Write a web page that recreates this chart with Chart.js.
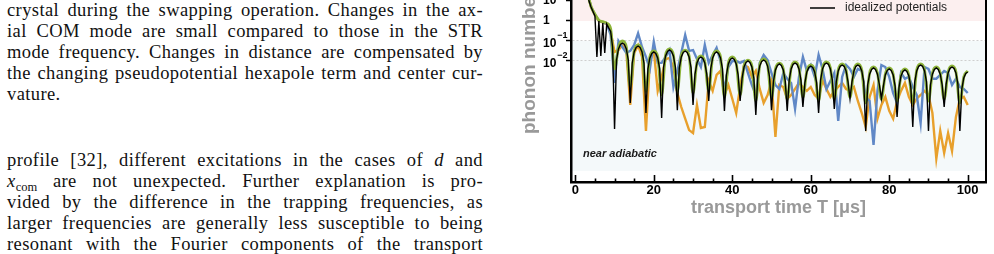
<!DOCTYPE html>
<html>
<head>
<meta charset="utf-8">
<title>phonon number vs transport time</title>
<script src="https://cdn.jsdelivr.net/npm/chart.js@4.4.1/dist/chart.umd.min.js"></script>
<style>
  html, body { margin: 0; padding: 0; background: #fff; }
  body { width: 994px; height: 254px; position: relative; overflow: hidden; }
  .para { position: absolute; left: 7px; width: 476px; font-family: 'Liberation Serif', 'Times New Roman', serif;
          font-size: 18.5px; line-height: 21px; color: #111; letter-spacing: 0.4px; }
  .para div { text-align: justify; text-align-last: justify; }
  .para div.last { text-align-last: left; }
  .para sub { font-size: 12.5px; line-height: 0; vertical-align: -4px; letter-spacing: 0; }
  #p1 { top: 0; }
  #p2 { top: 150px; }
  #chartBox { position: absolute; left: 505px; top: -10px; width: 489px; height: 264px; }
</style>
</head>
<body>

<div class="para" id="p1">
  <div>crystal during the swapping operation. Changes in the ax-</div>
  <div>ial COM mode are small compared to those in the STR</div>
  <div>mode frequency. Changes in distance are compensated by</div>
  <div>the changing pseudopotential hexapole term and center cur-</div>
  <div class="last">vature.</div>
</div>

<div class="para" id="p2">
  <div>profile [32], different excitations in the cases of <i>d</i> and</div>
  <div><i>x</i><sub>com</sub> are not unexpected. Further explanation is pro-</div>
  <div>vided by the difference in the trapping frequencies, as</div>
  <div>larger frequencies are generally less susceptible to being</div>
  <div>resonant with the Fourier components of the transport</div>
</div>

<div id="chartBox"><canvas id="phononChart" width="489" height="264"></canvas></div>

<script>
//////////////////////////////////////////////////////////////////////////
// Data (transport time T in µs, phonon number on a log axis)

var tStart = 3;          // first sample of every series
var coarseStep = 1;      // sampling of the simulated traces
var fineStep = 0.5;      // sampling of the idealized curve

var xTickValues = [0, 20, 40, 60, 80, 100];
var yTickValues = [1e-2, 1e-1, 1, 10];
var yTickBase = ['10', '10', '1', '10'];
var yTickExp = ['\u22122', '\u22121', '', ''];

var seriesLabels = ['idealized potentials', 'green trace', 'blue trace', 'orange trace'];
var seriesColors = ['#000000', '#8db43a', '#6088c6', '#e8a02c'];

// idealized potentials, every 0.5 µs from T = 3
var idealized = [
    30, 10, 5, 3, 1.8, 0.016, 1.0, 0.018, 0.8, 0.025, 0.7, 0.45, 0.3, 0.05,
    4e-6, 0.0112, 0.0398, 0.0676, 0.0794, 0.0676, 0.0398, 0.0112,
    7.9e-5, 0.0079, 0.0282, 0.0479, 0.0562, 0.0479, 0.0282, 0.0079,
    2.5e-5, 0.004, 0.0141, 0.024, 0.0282, 0.024, 0.0141, 0.004,
    1.4e-5, 0.005, 0.0178, 0.0302, 0.0355, 0.0302, 0.0178, 0.005,
    3.5e-5, 0.0045, 0.0158, 0.0269, 0.0316, 0.0269, 0.0158, 0.0045,
    6.3e-5, 0.0022, 0.0079, 0.0135, 0.0158, 0.0135, 0.0079, 0.0022,
    1e-4, 0.004, 0.0141, 0.024, 0.0282, 0.024, 0.0141, 0.004,
    3.2e-5, 0.002, 0.0071, 0.012, 0.0141, 0.012, 0.0071, 0.002,
    1e-4, 0.0014, 0.005, 0.0085, 0.01, 0.0085, 0.005, 0.0014,
    2e-5, 0.0016, 0.0056, 0.0096, 0.0112, 0.0096, 0.0056, 0.0016,
    3.5e-5, 0.001, 0.0036, 0.006, 0.0071, 0.006, 0.0036, 0.001,
    3.2e-5, 0.0011, 0.004, 0.0068, 0.0079, 0.0068, 0.004, 0.0011,
    5e-5, 0.0008, 0.0028, 0.0048, 0.0056, 0.0048, 0.0028, 0.0008,
    2.5e-5, 0.0011, 0.004, 0.0068, 0.0079, 0.0068, 0.004, 0.0011,
    4e-5, 0.0009, 0.0032, 0.0054, 0.0063, 0.0054, 0.0032, 0.0009,
    1.3e-4, 0.0009, 0.0032, 0.0054, 0.0063, 0.0054, 0.0032, 0.0009,
    3.2e-6, 0.00063, 0.0022, 0.0038, 0.0045, 0.0038, 0.0022, 0.00063,
    1.3e-4, 0.00056, 0.002, 0.0034, 0.004, 0.0034, 0.002, 0.00056,
    1.6e-5, 0.0005, 0.0018, 0.003, 0.0036, 0.003, 0.0018, 0.0005,
    5e-6, 0.0009, 0.0032, 0.0054, 0.0063, 0.0054, 0.0032, 0.0009,
    3.2e-6, 0.00063, 0.0022, 0.0038, 0.0045, 0.0038, 0.0022, 0.00063,
    5e-5, 0.0007, 0.0025, 0.0043, 0.005, 0.0043, 0.0025, 0.0007,
    3.2e-6, 0.0004, 0.0014, 0.0024, 0.0028
];

// simulated traces, every 1 µs from T = 3
var greenTrace = [
    30, 5.5, 2.2, 1.1, 0.93, 0.78, 0.42,
    0.004, 0.05, 0.1, 0.05, 5e-4, 0.032, 0.063, 0.032, 3e-4, 0.016,
    0.032, 0.016, 2e-4, 0.02, 0.04, 0.02, 3e-4, 0.018, 0.035, 0.018,
    2.5e-4, 0.0089, 0.018, 0.0089, 3e-4, 0.016, 0.032, 0.016, 1.5e-4, 0.0079,
    0.016, 0.0079, 2e-4, 0.0056, 0.011, 0.0056, 1e-4, 0.0063, 0.0126, 0.0063,
    1.5e-4, 0.004, 0.0079, 0.004, 1.2e-4, 0.0045, 0.0089, 0.0045, 1.5e-4, 0.0032,
    0.0063, 0.0032, 1e-4, 0.0045, 0.0089, 0.0045, 1.2e-4, 0.0035, 0.0071, 0.0035,
    1.5e-4, 0.0035, 0.0071, 0.0035, 8e-5, 0.0025, 0.005, 0.0025, 1.2e-4, 0.0022,
    0.0045, 0.0022, 1e-4, 0.002, 0.004, 0.002, 8e-5, 0.0035, 0.0071, 0.0035,
    1e-4, 0.0025, 0.005, 0.0025, 1.2e-4, 0.0028, 0.0056, 0.0028, 8e-5, 0.0016,
    0.0032
];

var blueTrace = [
    30, 5.2, 2.0, 1.05, 0.88, 0.72, 0.2,
    8e-4, 0.1, 0.05, 0.025, 0.032, 0.063, 0.24, 0.05, 0.016, 0.004,
    0.09, 0.008, 0.008, 0.016, 0.035, 5e-4, 0.0032, 0.025, 0.2, 0.032,
    0.035, 0.0126, 0.005, 0.063, 0.008, 0.02, 0.045, 0.01, 3.2e-4, 0.005,
    0.01, 0.01, 0.008, 0.01, 0.0025, 6.3e-4, 2e-4, 0.008, 0.02, 0.011,
    0.0025, 6.3e-4, 4e-4, 0.0025, 0.0013, 8e-4, 4e-5, 0.0016, 0.016, 0.0032,
    0.0063, 0.0016, 0.02, 0.004, 4e-4, 0.001, 0.0025, 1e-5, 0.0016, 0.0063,
    0.004, 0.0016, 0.004, 0.0032, 1.6e-4, 1e-4, 6.3e-7, 3.2e-4, 0.0063, 0.005,
    0.0016, 2.5e-4, 8e-5, 0.0025, 0.0013, 0.0016, 5e-4, 2e-4, 8e-6, 0.005,
    0.004, 0.0013, 0.0013, 0.002, 0.0032, 0.0025, 6.3e-4, 0.0013, 5e-4, 4e-4,
    2.5e-4
];

var orangeTrace = [
    30, 5, 1.9, 1.0, 0.85, 0.7, 0.3,
    0.028, 0.035, 0.063, 0.03, 6.3e-5, 0.025, 0.06, 0.016, 3.2e-6, 0.01,
    0.035, 3.2e-4, 0.0016, 0.0126, 0.014, 0.005, 2.5e-4, 5e-5, 1.3e-5, 3.5e-6,
    2.5e-6, 6.3e-5, 4.5e-6, 5e-6, 1e-3, 3.2e-4, 0.002, 0.0032, 2e-4, 6.3e-4,
    1.3e-4, 2.5e-5, 5e-4, 0.0063, 0.005, 0.0016, 0.0032, 4e-4, 8e-5, 2e-4,
    1e-3, 1.6e-6, 6.3e-4, 5e-4, 1.3e-4, 2e-4, 4e-4, 8e-4, 5e-4, 3.2e-4,
    5e-4, 2e-4, 1.3e-4, 0.0011, 4e-4, 1.6e-4, 3.2e-4, 5e-4, 8e-4, 4e-4,
    3.2e-4, 5e-4, 1e-4, 2.5e-5, 5e-6, 1.6e-4, 6.3e-4, 1.3e-5, 6.3e-5, 1.6e-4,
    3.2e-5, 1.3e-5, 1e-4, 3.2e-4, 8e-4, 1.6e-4, 6.3e-5, 1.3e-4, 2e-4, 3.2e-4,
    2e-4, 2.5e-5, 1.3e-7, 3.2e-6, 2.5e-7, 2.5e-6, 3.2e-7, 1.6e-5, 1.3e-4, 1.6e-4,
    6.3e-5
];

// shaded regions of the plot
var bandHighFrom = 1;        // pink above n = 1
var bandLowFrom = 0.1;       // light cyan below n = 0.1
var bandLowTo = 3.2e-8;

// axis ranges
var xMin = -1.1, xMax = 104.66;
var yMin = 8.9e-9, yMax = 14.1;

//////////////////////////////////////////////////////////////////////////

function toPoints(values, step) {
    var pts = [];
    for (var i = 0; i < values.length; i++) {
        pts.push({ x: tStart + i * step, y: values[i] });
    }
    return pts;
}

Chart.defaults.font.family = "'Liberation Sans', Arial, sans-serif";

// backgrounds, inner ticks, labels, legend
var decorPlugin = {
    id: 'decor',
    beforeDraw: function (chart) {
        var a = chart.chartArea, ys = chart.scales.y, c = chart.ctx;
        c.save();
        c.fillStyle = '#fcefef';
        var yHigh = ys.getPixelForValue(bandHighFrom);
        c.fillRect(a.left, a.top, a.right - a.left, yHigh - a.top);
        c.fillStyle = '#f4f9fa';
        var yLow1 = ys.getPixelForValue(bandLowFrom);
        var yLow2 = ys.getPixelForValue(bandLowTo);
        c.fillRect(a.left, yLow1, a.right - a.left, yLow2 - yLow1);
        c.restore();
    },
    afterDraw: function (chart) {
        var a = chart.chartArea, xs = chart.scales.x, ys = chart.scales.y, c = chart.ctx;
        c.save();

        // right frame
        c.strokeStyle = '#000';
        c.lineWidth = 2;
        c.beginPath();
        c.moveTo(a.right, a.top);
        c.lineTo(a.right, a.bottom);
        c.stroke();

        // x ticks pointing inward, minor every 5
        c.lineWidth = 1.6;
        for (var v = 0; v <= 100; v += 5) {
            var px = Math.round(xs.getPixelForValue(v)) + 0.5;
            var len = (v % 20 === 0) ? 7 : 3.5;
            c.beginPath();
            c.moveTo(px, a.bottom);
            c.lineTo(px, a.bottom - len);
            c.stroke();
        }

        // y tick labels with exponents
        c.fillStyle = '#000';
        c.textBaseline = 'middle';
        c.textAlign = 'left';
        var lx = a.left - 28;
        for (var i = 0; i < yTickValues.length; i++) {
            var py = ys.getPixelForValue(yTickValues[i]);
            c.font = "bold 12px 'Liberation Sans', Arial, sans-serif";
            if (yTickExp[i]) {
                c.fillText(yTickBase[i], lx, py + 3);
                var w = c.measureText(yTickBase[i]).width;
                c.font = "bold 9px 'Liberation Sans', Arial, sans-serif";
                c.fillText(yTickExp[i], lx + w + 1, py - 5);
            } else {
                c.fillText(yTickBase[i], lx, py);
            }
        }

        // y axis title (rotated)
        c.save();
        c.translate(a.left - 41, a.bottom - 48);
        c.rotate(-Math.PI / 2);
        c.fillStyle = '#999';
        c.font = "bold 19px 'Liberation Sans', Arial, sans-serif";
        c.textAlign = 'left';
        c.fillText('phonon number', 0, 0);
        c.restore();

        // legend entry
        var ds = chart.data.datasets[0];
        c.strokeStyle = ds.borderColor;
        c.lineWidth = 1.5;
        c.beginPath();
        c.moveTo(a.right - 176, a.top + 10);
        c.lineTo(a.right - 151, a.top + 10);
        c.stroke();
        c.fillStyle = '#222';
        c.font = "12px 'Liberation Sans', Arial, sans-serif";
        c.fillText(ds.label, a.right - 141, a.top + 10);

        // region note
        c.font = "italic bold 11px 'Liberation Sans', Arial, sans-serif";
        c.fillStyle = '#1a1a1a';
        c.fillText('near adiabatic', a.left + 12, a.bottom - 28.5);

        c.restore();
    }
};

var ctxPhonon = document.getElementById('phononChart').getContext('2d');
var phononChart = new Chart(ctxPhonon, {
    type: 'line',
    data: {
        datasets: [{
            label: seriesLabels[0],
            data: toPoints(idealized, fineStep),
            borderColor: seriesColors[0],
            borderWidth: 1.4,
            pointRadius: 0,
            tension: 0
        }, {
            label: seriesLabels[1],
            data: toPoints(greenTrace, coarseStep),
            borderColor: seriesColors[1],
            borderWidth: 2.8,
            pointRadius: 0,
            cubicInterpolationMode: 'monotone'
        }, {
            label: seriesLabels[2],
            data: toPoints(blueTrace, coarseStep),
            borderColor: seriesColors[2],
            borderWidth: 2.4,
            pointRadius: 0,
            tension: 0
        }, {
            label: seriesLabels[3],
            data: toPoints(orangeTrace, coarseStep),
            borderColor: seriesColors[3],
            borderWidth: 2.4,
            pointRadius: 0,
            tension: 0
        }]
    },
    options: {
        responsive: false,
        animation: false,
        events: [],
        layout: { padding: { left: 0, top: 8, right: 8, bottom: 0 } },
        plugins: {
            legend: { display: false },
            tooltip: { enabled: false }
        },
        scales: {
            x: {
                type: 'linear',
                min: xMin,
                max: xMax,
                afterBuildTicks: function (scale) {
                    scale.ticks = xTickValues.map(function (v) { return { value: v }; });
                },
                afterFit: function (scale) { scale.height = 72; },
                grid: { display: false, drawTicks: false },
                border: { display: true, color: '#000', width: 2.5 },
                ticks: {
                    color: '#000',
                    font: { size: 13, weight: 'bold' },
                    padding: 1,
                    autoSkip: false,
                    maxRotation: 0
                },
                title: {
                    display: true,
                    text: 'transport time T [\u03bcs]',
                    color: '#999',
                    font: { size: 18, weight: 'bold' },
                    padding: { top: 0, bottom: 35 }
                }
            },
            y: {
                type: 'logarithmic',
                min: yMin,
                max: yMax,
                afterBuildTicks: function (scale) {
                    scale.ticks = yTickValues.map(function (v) { return { value: v }; });
                },
                afterFit: function (scale) { scale.width = 66; },
                ticks: { display: false },
                grid: {
                    color: function (c) {
                        return (c.tick && c.tick.value < 0.5) ? '#cfcfcf' : 'rgba(0,0,0,0)';
                    },
                    lineWidth: 1,
                    drawTicks: true,
                    tickLength: 5,
                    tickWidth: 1.5,
                    tickColor: '#000'
                },
                border: { display: true, color: '#000', width: 2.5, dash: [2, 2] }
            }
        }
    },
    plugins: [decorPlugin]
});
</script>
</body>
</html>
